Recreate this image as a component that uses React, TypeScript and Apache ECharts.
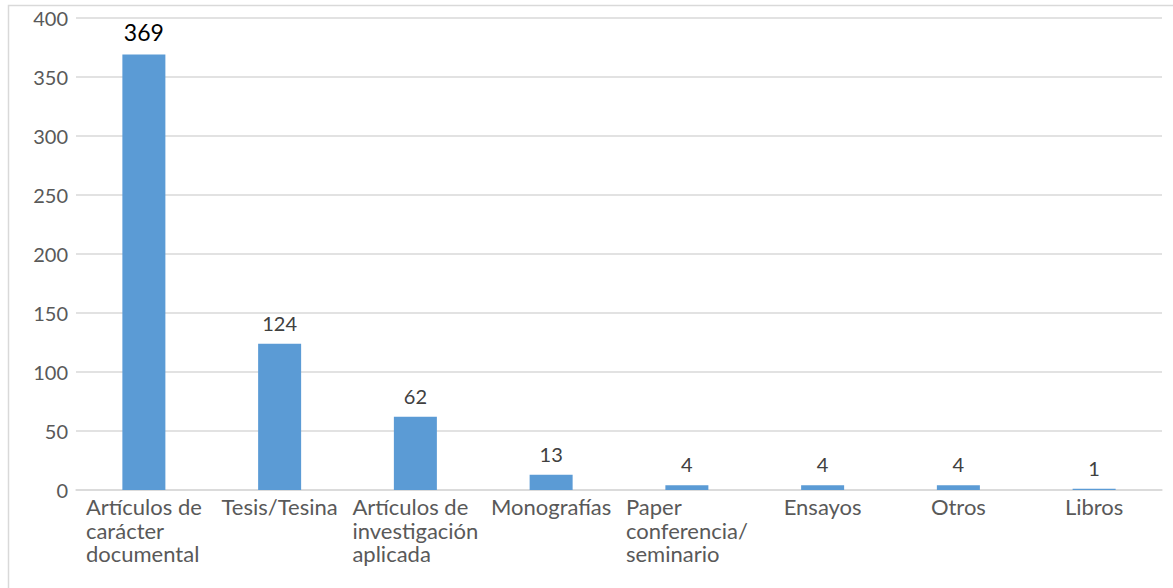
import React, { useEffect, useRef } from "react";
import * as echarts from "echarts";

const categories: string[][] = [
  ["Artículos de", "carácter", "documental"],
  ["Tesis/Tesina"],
  ["Artículos de", "investigación", "aplicada"],
  ["Monografías"],
  ["Paper", "conferencia/", "seminario"],
  ["Ensayos"],
  ["Otros"],
  ["Libros"],
];
const values: number[] = [369, 124, 62, 13, 4, 4, 4, 1];
const yTicks = { min: 0, max: 400, interval: 50 };

export default function App() {
  const ref = useRef<HTMLDivElement>(null);
  useEffect(() => {
    if (!ref.current) return;
    const chart = echarts.init(ref.current, undefined, { renderer: "svg" });
    const font = "Lato";
    chart.setOption({
      animation: false,
      backgroundColor: "#ffffff",
      textStyle: { fontFamily: font },
      graphic: [
        {
          type: "rect",
          shape: { x: 8.5, y: 5.5, width: 1200, height: 600 },
          style: { fill: "none", stroke: "#d9d9d9", lineWidth: 1.5 },
          silent: true,
        },
      ],
      grid: { left: 76, right: 11, top: 18, bottom: 98, containLabel: false },
      xAxis: {
        type: "category",
        data: categories.map((c) => c.join("\n")),
        axisLine: { lineStyle: { color: "#d9d9d9", width: 1.5 } },
        axisTick: { show: false },
        axisLabel: {
          interval: 0,
          margin: 5,
          color: "#595959",
          fontFamily: font,
          fontSize: 22,
          lineHeight: 23.5,
          align: "center",
          verticalAlign: "top",
          formatter: (v: string) =>
            v
              .split("\n")
              .map((l) => "{a|" + l + "}")
              .join("\n"),
          rich: {
            a: {
              align: "left",
              color: "#595959",
              fontFamily: font,
              fontSize: 22,
              lineHeight: 23.5,
            },
          },
        },
      },
      yAxis: {
        type: "value",
        min: yTicks.min,
        max: yTicks.max,
        interval: yTicks.interval,
        axisLine: { show: false },
        axisTick: { show: false },
        splitLine: { lineStyle: { color: "#d9d9d9", width: 1.5 } },
        axisLabel: {
          margin: 8,
          color: "#595959",
          fontFamily: font,
          fontSize: 20,
        },
      },
      series: [
        {
          type: "bar",
          data: values.map((v, i) =>
            i === 0
              ? {
                  value: v,
                  label: { color: "#000000", fontSize: 23 },
                }
              : v
          ),
          barWidth: 43,
          itemStyle: { color: "#5b9bd5" },
          label: {
            show: true,
            position: "top",
            distance: 11,
            color: "#404040",
            fontFamily: font,
            fontSize: 20,
          },
        },
      ],
    });
    return () => chart.dispose();
  }, []);
  return (
    <div
      ref={ref}
      style={{ position: "fixed", left: 0, top: 0, width: 1173, height: 588 }}
    />
  );
}
